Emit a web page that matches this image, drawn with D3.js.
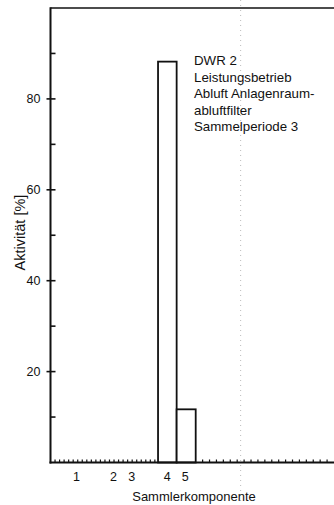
<!DOCTYPE html>
<html>
<head>
<meta charset="utf-8">
<script src="https://cdn.jsdelivr.net/npm/d3@7"></script>
<style>
  body { margin: 0; background: #fff; }
  svg { display: block; }
  text { font-family: "Liberation Sans", Arial, sans-serif; fill: #111; }
</style>
</head>
<body>
<svg id="chart"></svg>
<script>
// components of the sampler and the measured activity share (%)
var components = ["1", "2", "3", "4", "5"];
var labelPos   = [5.7, 13.9, 17.9, 25.7, 29.7];   // x position of each label (axis units)
var barStart   = [null, null, null, 23.7, 27.8];
var barEnd     = [null, null, null, 27.8, 32];
var activity   = [0, 0, 0, 88.2, 11.7];

var yMajor = [20, 40, 60, 80];
var yMinor = [10, 30, 50, 70, 90];
var xMinor = d3.range(1, 52, 1);

var note = ["DWR 2", "Leistungsbetrieb", "Abluft Anlagenraum-", "abluftfilter", "Sammelperiode 3"];

var width = 334, height = 505;
var svg = d3.select("#chart").attr("width", width).attr("height", height);

// x axis is not evenly divided in the original; piecewise linear
var x = d3.scaleLinear().domain([0, 32, 52]).range([50.5, 195.7, 334]);
var y = d3.scaleLinear().domain([0, 100]).range([462.5, 8]);

var bars = components.map(function(c, i) {
  return { comp: c, x0: barStart[i], x1: barEnd[i], v: activity[i] };
}).filter(function(d) { return d.v > 0; });

// faint fold line from the scan
svg.append("line")
    .attr("x1", x(38.5)).attr("x2", x(38.5))
    .attr("y1", 0).attr("y2", height)
    .attr("stroke", "#bbb").attr("stroke-width", 1)
    .attr("stroke-dasharray", "1,4");

// bars
svg.selectAll(".bar")
  .data(bars)
  .enter()
    .append("rect")
    .classed("bar", true)
    .attr("x", d => x(d.x0))
    .attr("width", d => x(d.x1) - x(d.x0))
    .attr("y", d => y(d.v))
    .attr("height", d => y(0) - y(d.v))
    .attr("fill", "#fff")
    .attr("stroke", "#111")
    .attr("stroke-width", 1.8);

// frame: top line, left axis, bottom axis
svg.append("line")
    .attr("x1", x(0)).attr("x2", width)
    .attr("y1", y(100)).attr("y2", y(100))
    .attr("stroke", "#111").attr("stroke-width", 1.6);
svg.append("line")
    .attr("x1", x(0)).attr("x2", x(0))
    .attr("y1", y(100) - 0.8).attr("y2", y(0) + 1)
    .attr("stroke", "#111").attr("stroke-width", 2);
svg.append("line")
    .attr("x1", x(0) - 1).attr("x2", width)
    .attr("y1", y(0)).attr("y2", y(0))
    .attr("stroke", "#111").attr("stroke-width", 2.2);

// y ticks
svg.selectAll(".ymajor")
  .data(yMajor)
  .enter()
    .append("line")
    .attr("x1", x(0) - 4).attr("x2", x(0) + 5)
    .attr("y1", d => y(d)).attr("y2", d => y(d))
    .attr("stroke", "#111").attr("stroke-width", 1.6);
svg.selectAll(".yminor")
  .data(yMinor)
  .enter()
    .append("line")
    .attr("x1", x(0)).attr("x2", x(0) + 5)
    .attr("y1", d => y(d)).attr("y2", d => y(d))
    .attr("stroke", "#111").attr("stroke-width", 1.6);
svg.selectAll(".ylabel")
  .data(yMajor)
  .enter()
    .append("text")
    .attr("x", 40.5)
    .attr("y", d => y(d))
    .attr("dy", "0.36em")
    .attr("text-anchor", "end")
    .style("font-size", "12.5px")
    .text(d => d);

// x minor ticks
svg.selectAll(".xminor")
  .data(xMinor.filter(d => d < 23.7 || d > 32))
  .enter()
    .append("line")
    .attr("x1", d => x(d)).attr("x2", d => x(d))
    .attr("y1", y(0)).attr("y2", y(0) - 3)
    .attr("stroke", "#111").attr("stroke-width", 1.2);

// component labels
svg.selectAll(".xlabel")
  .data(components)
  .enter()
    .append("text")
    .attr("x", (d, i) => x(labelPos[i]))
    .attr("y", 480.5)
    .attr("text-anchor", "middle")
    .style("font-size", "12.5px")
    .text(d => d);

// axis titles
svg.append("text")
    .attr("x", 194)
    .attr("y", 500.5)
    .attr("text-anchor", "middle")
    .style("font-size", "13px")
    .text("Sammlerkomponente");
svg.append("text")
    .attr("transform", "translate(24.5,232.5) rotate(-90)")
    .attr("text-anchor", "middle")
    .style("font-size", "14.5px")
    .text("Aktivität [%]");

// annotation
svg.selectAll(".note")
  .data(note)
  .enter()
    .append("text")
    .attr("x", 194)
    .attr("y", (d, i) => 65 + i * 16.6)
    .style("font-size", "13.3px")
    .text(d => d);
</script>
</body>
</html>
